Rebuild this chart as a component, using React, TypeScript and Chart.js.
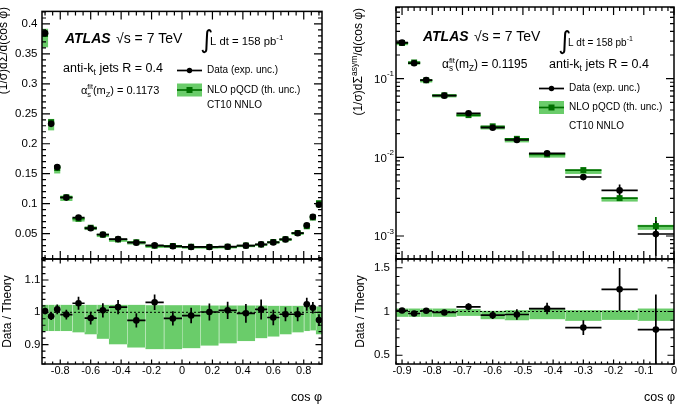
import { useEffect, useRef } from "react";
import { Chart, registerables } from "chart.js";

Chart.register(...registerables);

const FONT = "'Liberation Sans', Arial, Helvetica, sans-serif";
const BAND = "rgb(106, 204, 106)";
const BAND_SEAM = "rgba(255, 255, 255, 0.35)";
const THEORY = "rgb(0, 112, 0)";
const W = 680;
const H = 408;

// frame geometry (px)
const LEFT_FRAME = { left: 42, right: 322 };
const RIGHT_FRAME = { left: 396, right: 674 };
const TOP_Y = 7;
const SPLIT_Y = 259;
const BOTTOM_Y = 364;

// ---------- TEEC: (1/σ) dΣ/d(cos φ) ----------
const teecEdges = [-0.92, -0.88, -0.84, -0.8, -0.72, -0.64, -0.56, -0.48, -0.36, -0.24, -0.12, 0, 0.12, 0.24, 0.36, 0.48, 0.56, 0.64, 0.72, 0.8, 0.84, 0.88, 0.92];
const teecCenters = [-0.9, -0.86, -0.82, -0.76, -0.68, -0.6, -0.52, -0.42, -0.3, -0.18, -0.06, 0.06, 0.18, 0.3, 0.42, 0.52, 0.6, 0.68, 0.76, 0.82, 0.86, 0.9];
const teecData = [0.3847, 0.2332, 0.161, 0.11, 0.0768, 0.0588, 0.0484, 0.0407, 0.0347, 0.0303, 0.0287, 0.0276, 0.0276, 0.028, 0.0298, 0.032, 0.0352, 0.0402, 0.0506, 0.0637, 0.0779, 0.0981];
const teecDataErr = [0.004, 0.003, 0.0024, 0.0017, 0.0015, 0.0012, 0.0011, 0.0009, 0.0008, 0.0007, 0.0006, 0.0007, 0.0007, 0.0008, 0.0009, 0.001, 0.0008, 0.0009, 0.0011, 0.0013, 0.0014, 0.0018];
const teecTheory = [0.3832, 0.236, 0.1596, 0.1108, 0.0747, 0.0599, 0.0481, 0.0401, 0.0356, 0.0294, 0.0293, 0.0279, 0.0276, 0.0278, 0.0299, 0.0317, 0.0358, 0.0404, 0.0509, 0.0621, 0.0768, 0.1005];
const teecThUp = [0.023, 0.023, 0.023, 0.023, 0.023, 0.023, 0.023, 0.023, 0.023, 0.022, 0.022, 0.022, 0.021, 0.021, 0.021, 0.021, 0.02, 0.02, 0.02, 0.019, 0.019, 0.018];
const teecThDown = [0.058, 0.058, 0.058, 0.058, 0.062, 0.068, 0.082, 0.099, 0.109, 0.114, 0.114, 0.111, 0.103, 0.096, 0.089, 0.08, 0.075, 0.068, 0.062, 0.058, 0.056, 0.068];
const teecRatio = [1.004, 0.988, 1.009, 0.993, 1.028, 0.982, 1.006, 1.016, 0.975, 1.031, 0.981, 0.99, 1.001, 1.006, 0.997, 1.009, 0.984, 0.994, 0.994, 1.025, 1.014, 0.976];
const teecRatioErr = [0.01, 0.012, 0.015, 0.015, 0.02, 0.02, 0.022, 0.022, 0.022, 0.024, 0.022, 0.024, 0.026, 0.027, 0.029, 0.031, 0.024, 0.022, 0.022, 0.02, 0.018, 0.018];
const teecXTicks = [-0.8, -0.6, -0.4, -0.2, 0, 0.2, 0.4, 0.6, 0.8];
const teecYTicks = [0.05, 0.1, 0.15, 0.2, 0.25, 0.3, 0.35, 0.4];
const teecRatioYTicks = [0.9, 1, 1.1];

// ---------- ATEEC: (1/σ) dΣ^asym/d(cos φ) ----------
const ateecEdges = [-0.92, -0.88, -0.84, -0.8, -0.72, -0.64, -0.56, -0.48, -0.36, -0.24, -0.12, 0];
const ateecCenters = [-0.9, -0.86, -0.82, -0.76, -0.68, -0.6, -0.52, -0.42, -0.3, -0.18, -0.06];
const ateecData = [0.287, 0.157, 0.096, 0.0608, 0.0363, 0.0238, 0.0166, 0.01125, 0.00562, 0.0038, 0.00106];
const ateecDataErr = [0.003, 0.0016, 0.001, 0.0006, 0.0014, 0.0011, 0.001, 0.0007, 0.0005, 0.0007, 0.0005];
const ateecTheory = [0.2839, 0.1607, 0.0952, 0.0615, 0.0344, 0.0248, 0.0172, 0.01088, 0.00689, 0.00303, 0.00134];
const ateecThErr = [0, 0, 0, 0, 0, 0, 0, 0, 0.0002, 0.00025, 0.0004];
const ateecThUp = [0.034, 0.034, 0.034, 0.034, 0.027, 0.008, 0.015, 0.027, 0.015, 0.015, 0.034];
const ateecThDown = [0.061, 0.061, 0.061, 0.061, 0.05, 0.088, 0.1, 0.088, 0.107, 0.096, 0.107];
const ateecRatio = [1.011, 0.977, 1.008, 0.989, 1.054, 0.958, 0.966, 1.034, 0.816, 1.253, 0.793];
const ateecRatioErr = [0.01, 0.01, 0.012, 0.012, 0.04, 0.045, 0.06, 0.065, 0.085, 0.245, 0.4];
const ateecXTicks = [-0.9, -0.8, -0.7, -0.6, -0.5, -0.4, -0.3, -0.2, -0.1, 0];
const ateecYTicks = [0.001, 0.01, 0.1];
const ateecYExp = ["-3", "-2", "-1"];
const ateecRatioYTicks = [0.5, 1, 1.5];

type Seg = { t: string; size: number; dy?: number; style?: string; family?: string; keep?: boolean };

const fmt = (v: number) => String(Math.round(v * 100) / 100);

function setFont(ctx: CanvasRenderingContext2D, s: Seg) {
  ctx.font = `${s.style ? s.style + " " : ""}${s.size}px ${s.family ?? FONT}`;
}

function richWidth(ctx: CanvasRenderingContext2D, segs: Seg[]) {
  let w = 0;
  for (const s of segs) {
    setFont(ctx, s);
    if (!s.keep) w += ctx.measureText(s.t).width;
  }
  return w;
}

function rich(ctx: CanvasRenderingContext2D, x: number, y: number, segs: Seg[]) {
  let cx = x;
  ctx.textAlign = "left";
  ctx.textBaseline = "alphabetic";
  for (const s of segs) {
    setFont(ctx, s);
    ctx.fillText(s.t, cx, y + (s.dy ?? 0));
    if (!s.keep) cx += ctx.measureText(s.t).width;
  }
}

// text rotated to read bottom-to-top; anchor is the end (top) or the centre
function richUp(ctx: CanvasRenderingContext2D, x: number, y: number, segs: Seg[], align: "end" | "center") {
  ctx.save();
  ctx.translate(x, y);
  ctx.rotate(-Math.PI / 2);
  const w = richWidth(ctx, segs);
  rich(ctx, align === "end" ? -w : -w / 2, 4.3, segs);
  ctx.restore();
}

function steps(min: number, max: number, step: number) {
  const out: number[] = [];
  for (let k = Math.ceil(min / step - 1e-9); k * step <= max + 1e-9; k++) out.push(+(k * step).toFixed(6));
  return out;
}

function logMinors(min: number, max: number) {
  const out: number[] = [];
  for (let e = Math.floor(Math.log10(min)); e <= Math.ceil(Math.log10(max)); e++) {
    for (let m = 2; m <= 9; m++) {
      const v = m * Math.pow(10, e);
      if (v >= min && v <= max) out.push(v);
    }
  }
  return out;
}

type TickSpec = {
  xMajor: number[]; xMinor: number[]; xLen: [number, number];
  yMajor: number[]; yMinor: number[]; yLen: [number, number];
};

function drawFrame(chart: Chart, t: TickSpec) {
  const { ctx, chartArea: a } = chart;
  const xs = chart.scales.x;
  const ys = chart.scales.y;
  ctx.save();
  ctx.strokeStyle = "#000";
  ctx.lineWidth = 1.2;
  ctx.beginPath();
  const xt = (vals: number[], len: number) =>
    vals.forEach((v) => {
      const p = xs.getPixelForValue(v);
      if (p < a.left - 0.5 || p > a.right + 0.5) return;
      ctx.moveTo(p, a.bottom); ctx.lineTo(p, a.bottom - len);
      ctx.moveTo(p, a.top); ctx.lineTo(p, a.top + len);
    });
  const yt = (vals: number[], len: number) =>
    vals.forEach((v) => {
      const p = ys.getPixelForValue(v);
      if (p < a.top - 0.5 || p > a.bottom + 0.5) return;
      ctx.moveTo(a.left, p); ctx.lineTo(a.left + len, p);
      ctx.moveTo(a.right, p); ctx.lineTo(a.right - len, p);
    });
  xt(t.xMajor, t.xLen[0]);
  xt(t.xMinor, t.xLen[1]);
  yt(t.yMajor, t.yLen[0]);
  yt(t.yMinor, t.yLen[1]);
  ctx.stroke();
  ctx.lineWidth = 1.5;
  ctx.strokeRect(a.left, a.top, a.right - a.left, a.bottom - a.top);
  ctx.restore();
}

type MainSpec = {
  edges: number[]; centers: number[]; data: number[]; dataErr: number[];
  theory: number[]; thErr: number[] | null; thUp: number[]; thDown: number[];
};

function drawMainBins(chart: Chart, s: MainSpec) {
  const { ctx, chartArea: a } = chart;
  const xs = chart.scales.x;
  const ys = chart.scales.y;
  ctx.save();
  ctx.beginPath();
  ctx.rect(a.left, a.top, a.right - a.left, a.bottom - a.top);
  ctx.clip();
  ctx.fillStyle = BAND;
  s.theory.forEach((t, i) => {
    const x0 = xs.getPixelForValue(s.edges[i]);
    const x1 = xs.getPixelForValue(s.edges[i + 1]);
    const yHi = ys.getPixelForValue(t * (1 + s.thUp[i]));
    const yLo = ys.getPixelForValue(t * (1 - s.thDown[i]));
    ctx.fillRect(x0, yHi, x1 - x0, yLo - yHi);
  });
  ctx.lineWidth = 1.7;
  ctx.strokeStyle = THEORY;
  ctx.beginPath();
  s.theory.forEach((t, i) => {
    const x0 = xs.getPixelForValue(s.edges[i]);
    const x1 = xs.getPixelForValue(s.edges[i + 1]);
    const py = ys.getPixelForValue(t);
    ctx.moveTo(x0, py); ctx.lineTo(x1, py);
    if (s.thErr && s.thErr[i] > 0) {
      const px = xs.getPixelForValue(s.centers[i]);
      ctx.moveTo(px, ys.getPixelForValue(t + s.thErr[i]));
      ctx.lineTo(px, ys.getPixelForValue(t - s.thErr[i]));
    }
  });
  ctx.stroke();
  ctx.strokeStyle = "#000";
  ctx.beginPath();
  s.data.forEach((d, i) => {
    const x0 = xs.getPixelForValue(s.edges[i]);
    const x1 = xs.getPixelForValue(s.edges[i + 1]);
    const px = xs.getPixelForValue(s.centers[i]);
    const py = ys.getPixelForValue(d);
    ctx.moveTo(x0, py); ctx.lineTo(x1, py);
    ctx.moveTo(px, ys.getPixelForValue(d + s.dataErr[i]));
    ctx.lineTo(px, ys.getPixelForValue(d - s.dataErr[i]));
  });
  ctx.stroke();
  ctx.restore();
}

type RatioSpec = {
  edges: number[]; centers: number[]; ratio: number[]; ratioErr: number[];
  thUp: number[]; thDown: number[];
};

function drawRatioBins(chart: Chart, s: RatioSpec) {
  const { ctx, chartArea: a } = chart;
  const xs = chart.scales.x;
  const ys = chart.scales.y;
  ctx.save();
  ctx.beginPath();
  ctx.rect(a.left, a.top, a.right - a.left, a.bottom - a.top);
  ctx.clip();
  ctx.fillStyle = BAND;
  s.thUp.forEach((u, i) => {
    const x0 = xs.getPixelForValue(s.edges[i]);
    const x1 = xs.getPixelForValue(s.edges[i + 1]);
    const yHi = ys.getPixelForValue(1 + u);
    const yLo = ys.getPixelForValue(1 - s.thDown[i]);
    ctx.fillRect(x0, yHi, x1 - x0, yLo - yHi);
  });
  // faint seams between neighbouring uncertainty boxes
  ctx.strokeStyle = BAND_SEAM;
  ctx.lineWidth = 1;
  ctx.beginPath();
  for (let i = 1; i < s.thUp.length; i++) {
    const px = Math.round(xs.getPixelForValue(s.edges[i])) + 0.5;
    const top = ys.getPixelForValue(1 + Math.min(s.thUp[i - 1], s.thUp[i]));
    const bot = ys.getPixelForValue(1 - Math.min(s.thDown[i - 1], s.thDown[i]));
    ctx.moveTo(px, top); ctx.lineTo(px, bot);
  }
  ctx.stroke();
  // reference line at unity
  ctx.strokeStyle = "#000";
  ctx.lineWidth = 1;
  ctx.setLineDash([2, 2]);
  ctx.beginPath();
  const p1 = ys.getPixelForValue(1);
  ctx.moveTo(a.left, p1); ctx.lineTo(a.right, p1);
  ctx.stroke();
  ctx.setLineDash([]);
  ctx.lineWidth = 1.7;
  ctx.beginPath();
  s.ratio.forEach((r, i) => {
    const x0 = xs.getPixelForValue(s.edges[i]);
    const x1 = xs.getPixelForValue(s.edges[i + 1]);
    const px = xs.getPixelForValue(s.centers[i]);
    const py = ys.getPixelForValue(r);
    ctx.moveTo(x0, py); ctx.lineTo(x1, py);
    ctx.moveTo(px, ys.getPixelForValue(r + s.ratioErr[i]));
    ctx.lineTo(px, ys.getPixelForValue(r - s.ratioErr[i]));
  });
  ctx.stroke();
  ctx.restore();
}

function drawLegend(ctx: CanvasRenderingContext2D, x: number, yData: number, yTh: number, yCt: number) {
  ctx.save();
  ctx.lineWidth = 1.7;
  ctx.strokeStyle = "#000";
  ctx.beginPath();
  ctx.moveTo(x, yData); ctx.lineTo(x + 25, yData);
  ctx.stroke();
  ctx.fillStyle = "#000";
  ctx.beginPath();
  ctx.arc(x + 12.5, yData, 2.7, 0, Math.PI * 2);
  ctx.fill();
  ctx.fillStyle = BAND;
  ctx.fillRect(x, yTh - 6.5, 25, 13);
  ctx.strokeStyle = THEORY;
  ctx.beginPath();
  ctx.moveTo(x, yTh); ctx.lineTo(x + 25, yTh);
  ctx.stroke();
  ctx.fillStyle = THEORY;
  ctx.fillRect(x + 9.5, yTh - 3, 6, 6);
  ctx.fillStyle = "#000";
  ctx.font = `10px ${FONT}`;
  ctx.textAlign = "left";
  ctx.textBaseline = "middle";
  ctx.fillText("Data (exp. unc.)", x + 30, yData);
  ctx.fillText("NLO pQCD (th. unc.)", x + 30, yTh);
  ctx.fillText("CT10 NNLO", x + 30, yCt);
  ctx.restore();
}

function drawHeader(ctx: CanvasRenderingContext2D, x: number, base: number, intX: number, lumiBase: number, lumiSize: number) {
  ctx.fillStyle = "#000";
  rich(ctx, x, base, [{ t: "ATLAS", size: 14, style: "italic bold" }]);
  rich(ctx, x + 51, base, [{ t: "√s = 7 TeV", size: 14 }]);
  rich(ctx, intX, lumiBase + 3, [{ t: "∫", size: 25, family: "'DejaVu Sans', sans-serif" }]);
  rich(ctx, intX + 10, lumiBase, [{ t: "L dt = 158 pb", size: lumiSize }, { t: "-1", size: lumiSize * 0.7, dy: -5 }]);
}

const antiKt: Seg[] = [{ t: "anti-k", size: 12.5 }, { t: "t", size: 8.5, dy: 3 }, { t: " jets R = 0.4", size: 12.5 }];
const alphaSegs = (val: string, size: number): Seg[] => [
  { t: "α", size },
  { t: "s", size: size * 0.68, dy: 3, keep: true },
  { t: "fit", size: size * 0.65, dy: -5 },
  { t: "(m", size },
  { t: "Z", size: size * 0.68, dy: 3 },
  { t: `) = ${val}`, size },
];

function xAxis(min: number, max: number, major: number[], show: boolean, height: number) {
  return {
    type: "linear" as const,
    position: "bottom" as const,
    min,
    max,
    display: show,
    grid: { display: false, drawTicks: false },
    border: { display: false },
    ticks: {
      autoSkip: false,
      maxRotation: 0,
      minRotation: 0,
      padding: 0,
      color: "#000",
      font: { family: FONT, size: 11 },
      callback: (v: any) => fmt(Number(v)),
    },
    afterBuildTicks: (s: any) => { s.ticks = major.map((v) => ({ value: v })); },
    afterFit: (s: any) => { s.height = height; },
  };
}

function yAxis(type: "linear" | "logarithmic", min: number, max: number, major: number[], width: number, pad: number, showLabels: boolean) {
  return {
    type,
    position: "left" as const,
    min,
    max,
    grid: { display: false, drawTicks: false },
    border: { display: false },
    ticks: {
      display: showLabels,
      autoSkip: false,
      padding: pad,
      color: "#000",
      font: { family: FONT, size: 11.5 },
      callback: (v: any) => fmt(Number(v)),
    },
    afterBuildTicks: (s: any) => { s.ticks = major.map((v) => ({ value: v })); },
    afterFit: (s: any) => { s.width = width; },
  };
}

function baseOptions(padding: { left: number; right: number; top: number; bottom: number }, scales: any) {
  return {
    animation: false as const,
    responsive: false,
    devicePixelRatio: 1,
    events: [] as any[],
    layout: { padding },
    plugins: { legend: { display: false }, tooltip: { enabled: false } },
    scales,
  };
}

function pointSets(centers: number[], data: number[], theory: number[] | null) {
  const sets: any[] = [
    {
      label: "Data (exp. unc.)",
      data: centers.map((c, i) => ({ x: c, y: data[i] })),
      showLine: false,
      pointStyle: "circle",
      pointRadius: 3.3,
      pointBackgroundColor: "#000",
      pointBorderWidth: 0,
    },
  ];
  if (theory) {
    sets.push({
      label: "NLO pQCD (th. unc.)",
      data: centers.map((c, i) => ({ x: c, y: theory[i] })),
      showLine: false,
      pointStyle: "rect",
      pointRadius: 4.2,
      pointBackgroundColor: THEORY,
      pointBorderWidth: 0,
    });
  }
  return sets;
}

// ---- left, upper: TEEC distribution ----
function buildTeecMain(canvas: HTMLCanvasElement) {
  const f = LEFT_FRAME;
  const yW = 42;
  const ticks: TickSpec = {
    xMajor: teecXTicks, xMinor: steps(-0.92, 0.92, 0.05), xLen: [8, 4],
    yMajor: teecYTicks, yMinor: steps(0.0075, 0.421, 0.01), yLen: [8, 4],
  };
  return new Chart(canvas, {
    type: "scatter",
    data: { datasets: pointSets(teecCenters, teecData, teecTheory) },
    options: baseOptions(
      { left: f.left - yW, right: W - f.right, top: TOP_Y, bottom: H - SPLIT_Y },
      { x: xAxis(-0.92, 0.92, teecXTicks, false, 0), y: yAxis("linear", 0.0075, 0.421, teecYTicks, yW, 4.5, true) }
    ) as any,
    plugins: [
      {
        id: "teecMain",
        beforeDatasetsDraw: (chart: Chart) =>
          drawMainBins(chart, {
            edges: teecEdges, centers: teecCenters, data: teecData, dataErr: teecDataErr,
            theory: teecTheory, thErr: null, thUp: teecThUp, thDown: teecThDown,
          }),
        afterDraw: (chart: Chart) => {
          const ctx = chart.ctx;
          drawFrame(chart, ticks);
          ctx.save();
          drawHeader(ctx, 65, 43, 200, 44.5, 11.3);
          rich(ctx, 63, 71.5, antiKt);
          rich(ctx, 81, 93.5, alphaSegs("0.1173", 11));
          drawLegend(ctx, 177, 70.5, 90, 105.5);
          richUp(ctx, 3, 7, [{ t: "(1/σ)dΣ/d(cos φ)", size: 12 }], "end");
          ctx.restore();
        },
      },
    ],
  });
}

// ---- left, lower: TEEC data / theory ----
function buildTeecRatio(canvas: HTMLCanvasElement) {
  const f = LEFT_FRAME;
  const yW = 42;
  const xH = 20;
  const ticks: TickSpec = {
    xMajor: teecXTicks, xMinor: steps(-0.92, 0.92, 0.05), xLen: [4.5, 2.5],
    yMajor: teecRatioYTicks, yMinor: steps(0.84, 1.165, 0.02), yLen: [6.5, 3.5],
  };
  return new Chart(canvas, {
    type: "scatter",
    data: { datasets: pointSets(teecCenters, teecRatio, null) },
    options: baseOptions(
      { left: f.left - yW, right: W - f.right, top: SPLIT_Y, bottom: H - BOTTOM_Y - xH },
      { x: xAxis(-0.92, 0.92, teecXTicks, true, xH), y: yAxis("linear", 0.84, 1.165, teecRatioYTicks, yW, 1.5, true) }
    ) as any,
    plugins: [
      {
        id: "teecRatio",
        beforeDatasetsDraw: (chart: Chart) =>
          drawRatioBins(chart, {
            edges: teecEdges, centers: teecCenters, ratio: teecRatio, ratioErr: teecRatioErr,
            thUp: teecThUp, thDown: teecThDown,
          }),
        afterDraw: (chart: Chart) => {
          const ctx = chart.ctx;
          drawFrame(chart, ticks);
          ctx.save();
          ctx.fillStyle = "#000";
          richUp(ctx, 7, 311.5, [{ t: "Data / Theory", size: 12 }], "center");
          ctx.font = `12.5px ${FONT}`;
          ctx.textAlign = "right";
          ctx.textBaseline = "alphabetic";
          ctx.fillText("cos φ", 322, 401);
          ctx.restore();
        },
      },
    ],
  });
}

// ---- right, upper: ATEEC distribution (log) ----
function buildAteecMain(canvas: HTMLCanvasElement) {
  const f = RIGHT_FRAME;
  const yW = 40;
  const yMin = 5.1e-4;
  const yMax = 0.815;
  const ticks: TickSpec = {
    xMajor: ateecXTicks, xMinor: steps(-0.92, 0, 0.02), xLen: [8, 4],
    yMajor: ateecYTicks, yMinor: logMinors(yMin, yMax), yLen: [8, 4],
  };
  return new Chart(canvas, {
    type: "scatter",
    data: { datasets: pointSets(ateecCenters, ateecData, ateecTheory) },
    options: baseOptions(
      { left: f.left - yW, right: W - f.right, top: TOP_Y, bottom: H - SPLIT_Y },
      { x: xAxis(-0.92, 0, ateecXTicks, false, 0), y: yAxis("logarithmic", yMin, yMax, ateecYTicks, yW, 4, false) }
    ) as any,
    plugins: [
      {
        id: "ateecMain",
        beforeDatasetsDraw: (chart: Chart) =>
          drawMainBins(chart, {
            edges: ateecEdges, centers: ateecCenters, data: ateecData, dataErr: ateecDataErr,
            theory: ateecTheory, thErr: ateecThErr, thUp: ateecThUp, thDown: ateecThDown,
          }),
        afterDraw: (chart: Chart) => {
          const ctx = chart.ctx;
          const ys = chart.scales.y;
          drawFrame(chart, ticks);
          ctx.save();
          ctx.fillStyle = "#000";
          ateecYTicks.forEach((v, i) => {
            const segs: Seg[] = [{ t: "10", size: 11.5 }, { t: ateecYExp[i], size: 8, dy: -6.5 }];
            const w = richWidth(ctx, segs);
            rich(ctx, f.left - 2 - w, ys.getPixelForValue(v) + 4.2, segs);
          });
          drawHeader(ctx, 423, 40.5, 558, 46, 10);
          rich(ctx, 442, 67.5, alphaSegs("0.1195", 12));
          rich(ctx, 549, 68, antiKt);
          drawLegend(ctx, 539, 88.5, 107.5, 126);
          richUp(ctx, 358, 8, [
            { t: "(1/σ)dΣ", size: 12 },
            { t: "asym", size: 8.5, dy: -5 },
            { t: "/d(cos φ)", size: 12 },
          ], "end");
          ctx.restore();
        },
      },
    ],
  });
}

// ---- right, lower: ATEEC data / theory ----
function buildAteecRatio(canvas: HTMLCanvasElement) {
  const f = RIGHT_FRAME;
  const yW = 40;
  const xH = 20;
  const ticks: TickSpec = {
    xMajor: ateecXTicks, xMinor: steps(-0.92, 0, 0.02), xLen: [4.5, 2.5],
    yMajor: ateecRatioYTicks, yMinor: steps(0.4, 1.6, 0.1), yLen: [6.5, 3.5],
  };
  return new Chart(canvas, {
    type: "scatter",
    data: { datasets: pointSets(ateecCenters, ateecRatio, null) },
    options: baseOptions(
      { left: f.left - yW, right: W - f.right, top: SPLIT_Y, bottom: H - BOTTOM_Y - xH },
      { x: xAxis(-0.92, 0, ateecXTicks, true, xH), y: yAxis("linear", 0.4, 1.6, ateecRatioYTicks, yW, 6, true) }
    ) as any,
    plugins: [
      {
        id: "ateecRatio",
        beforeDatasetsDraw: (chart: Chart) =>
          drawRatioBins(chart, {
            edges: ateecEdges, centers: ateecCenters, ratio: ateecRatio, ratioErr: ateecRatioErr,
            thUp: ateecThUp, thDown: ateecThDown,
          }),
        afterDraw: (chart: Chart) => {
          const ctx = chart.ctx;
          drawFrame(chart, ticks);
          ctx.save();
          ctx.fillStyle = "#000";
          richUp(ctx, 360, 311.5, [{ t: "Data / Theory", size: 12 }], "center");
          ctx.font = `12.5px ${FONT}`;
          ctx.textAlign = "right";
          ctx.textBaseline = "alphabetic";
          ctx.fillText("cos φ", 675, 401);
          ctx.restore();
        },
      },
    ],
  });
}

function Layer({ build }: { build: (c: HTMLCanvasElement) => Chart }) {
  const ref = useRef<HTMLCanvasElement>(null);
  useEffect(() => {
    const chart = build(ref.current as HTMLCanvasElement);
    return () => chart.destroy();
  }, [build]);
  return (
    <canvas
      ref={ref}
      width={W}
      height={H}
      style={{ position: "absolute", left: 0, top: 0, width: W, height: H }}
    />
  );
}

export default function App() {
  return (
    <div style={{ position: "fixed", left: 0, top: 0, width: W, height: H, background: "#fff", overflow: "hidden" }}>
      <Layer build={buildTeecMain} />
      <Layer build={buildTeecRatio} />
      <Layer build={buildAteecMain} />
      <Layer build={buildAteecRatio} />
    </div>
  );
}
